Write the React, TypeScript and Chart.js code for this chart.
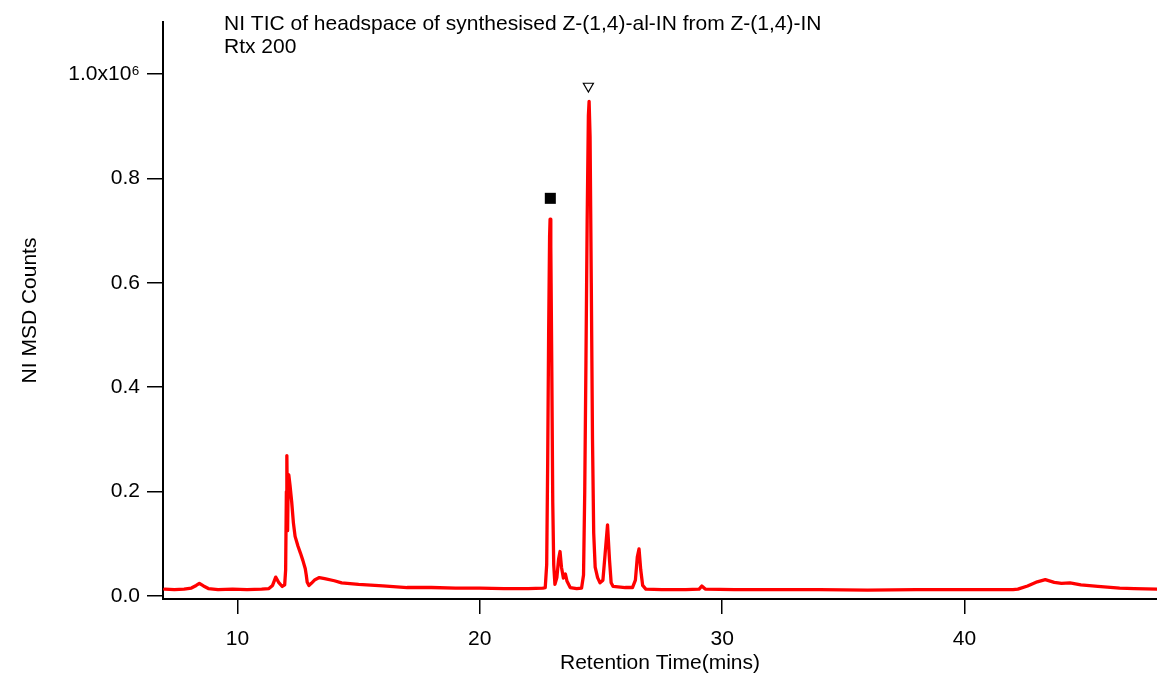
import React, { useEffect, useRef } from "react";
import { Chart, registerables } from "chart.js";

Chart.register(...registerables);

// Retention time (mins)
const times = [
  7.0, 7.4, 7.8, 8.1, 8.3, 8.43, 8.6, 8.8, 9.2, 9.8, 10.4, 11.0, 11.3, 11.45, 11.58, 11.7, 11.85, 11.95,
  11.99, 12.02, 12.04, 12.055, 12.07, 12.09, 12.12, 12.17, 12.24, 12.31, 12.38, 12.5, 12.6, 12.7, 12.8,
  12.84, 12.88, 12.95, 13.05, 13.2, 13.38, 13.6, 14.0, 14.3, 15.0, 16.0, 17.0, 18.0, 19.0, 20.0, 21.0,
  22.0, 22.6, 22.7, 22.76, 22.8, 22.84, 22.88, 22.9, 22.93, 22.97, 23.01, 23.05, 23.1, 23.18, 23.25,
  23.31, 23.37, 23.45, 23.53, 23.6, 23.73, 24.0, 24.2, 24.28, 24.33, 24.38, 24.43, 24.48, 24.51, 24.55,
  24.6, 24.65, 24.7, 24.76, 24.86, 24.96, 25.08, 25.17, 25.27, 25.35, 25.42, 25.5, 26.0, 26.3, 26.42,
  26.5, 26.57, 26.64, 26.72, 26.85, 27.5, 28.5, 29.05, 29.16, 29.3, 30.5, 32.0, 34.0, 36.0, 38.0, 40.0,
  42.0, 42.2, 42.6, 43.0, 43.33, 43.7, 44.0, 44.35, 44.8, 45.5, 46.4, 47.0, 47.94,
];

// NI MSD counts
const counts = [
  13000, 12000, 13000, 15000, 20000, 24000, 19000, 14000, 12000, 13000, 12000, 13000, 14000, 20000, 36000, 26000, 18000, 21000,
  50000, 200000, 269000, 200000, 125000, 200000, 232000, 212000, 180000, 140000, 114000, 95000, 82000, 68000, 52000,
  40000, 26000, 20000, 24000, 31000, 35000, 33000, 29000, 25000, 22000, 19000, 16000, 16000, 15000, 15000, 14000,
  14000, 15000, 16000, 60000, 250000, 500000, 690000, 722000, 670000, 440000, 180000, 60000, 22000, 35000, 70000,
  85000, 55000, 34000, 42000, 28000, 16000, 14000, 15000, 40000, 200000, 450000, 720000, 920000, 948000, 880000,
  600000, 300000, 120000, 55000, 35000, 25000, 30000, 80000, 136000, 70000, 25000, 18000, 16000, 16000, 30000,
  75000, 90000, 50000, 20000, 13000, 12000, 12000, 13000, 19000, 13000, 12000, 12000, 12000, 11000, 12000, 12000,
  12000, 13000, 19000, 27000, 31000, 26000, 24000, 25000, 21000, 18000, 15000, 14000, 13000,
];

// Peak markers
const markerTimes = [22.91, 24.48];
const markerCounts = [762000, 977000];
const markerStyles = ["rect", "triangle"];

const xTicks = [10, 20, 30, 40];
const yTicks = [0, 200000, 400000, 600000, 800000, 1000000];

const titleLines = [
  "NI TIC of headspace of synthesised Z-(1,4)-al-IN from Z-(1,4)-IN",
  "Rtx 200",
];

const FONT = "'Liberation Sans', Arial, Helvetica, sans-serif";
const W = 1157;
const H = 679;

export default function App() {
  const ref = useRef<HTMLCanvasElement | null>(null);

  useEffect(() => {
    if (!ref.current) return;
    const titlePlugin = {
      id: "titleText",
      afterDraw(chart: any) {
        const ctx = chart.ctx;
        ctx.save();
        ctx.fillStyle = "#000";
        ctx.font = `21px ${FONT}`;
        ctx.textAlign = "left";
        ctx.textBaseline = "alphabetic";
        ctx.fillText(titleLines[0], 224, 30);
        ctx.fillText(titleLines[1], 224, 53);
        ctx.restore();
      },
    };

    const chart = new Chart(ref.current, {
      type: "line",
      data: {
        datasets: [
          {
            type: "line",
            data: times.map((t, i) => ({ x: t, y: counts[i] })),
            borderColor: "#ff0000",
            backgroundColor: "#ff0000",
            borderWidth: 3.3,
            borderJoinStyle: "round",
            borderCapStyle: "round",
            pointRadius: 0,
            tension: 0,
            fill: false,
          },
          {
            type: "scatter",
            data: markerTimes.map((t, i) => ({ x: t, y: markerCounts[i] })),
            pointStyle: markerStyles as any,
            pointRadius: [7.8, 5.8],
            pointRotation: [0, 180],
            backgroundColor: ["#000000", "#ffffff"],
            borderColor: "#000000",
            borderWidth: [0, 1.2],
          } as any,
        ],
      },
      options: {
        animation: false,
        responsive: false,
        maintainAspectRatio: false,
        devicePixelRatio: 1,
        layout: { autoPadding: false, padding: { top: 22, left: 0, right: 0, bottom: 0 } },
        plugins: {
          legend: { display: false },
          tooltip: { enabled: false },
          title: { display: false },
        },
        font: { family: FONT, size: 21 },
        scales: {
          x: {
            type: "linear",
            min: 6.93,
            max: 47.94,
            afterBuildTicks: (scale: any) => {
              scale.ticks = xTicks.map((v) => ({ value: v }));
            },
            afterFit: (scale: any) => {
              scale.height = 80;
              scale.paddingLeft = 0;
              scale.paddingRight = 0;
            },
            grid: {
              drawOnChartArea: false,
              drawTicks: true,
              tickLength: 15,
              color: "#000",
              lineWidth: 1.5,
            },
            border: { display: true, color: "#000", width: 2 },
            ticks: {
              color: "#000",
              padding: 13,
              font: { family: FONT, size: 21 },
              maxRotation: 0,
              callback: (v: any) => String(v),
            },
            title: {
              display: true,
              text: "Retention Time(mins)",
              color: "#000",
              font: { family: FONT, size: 21 },
              padding: { top: 0, bottom: 3 },
            },
          },
          y: {
            type: "linear",
            min: -6000,
            max: 1100000,
            afterBuildTicks: (scale: any) => {
              scale.ticks = yTicks.map((v) => ({ value: v }));
            },
            afterFit: (scale: any) => {
              scale.width = 163;
              scale.paddingTop = 0;
              scale.paddingBottom = 0;
            },
            grid: {
              drawOnChartArea: false,
              drawTicks: true,
              tickLength: 16,
              color: "#000",
              lineWidth: 1.5,
            },
            border: { display: true, color: "#000", width: 2 },
            ticks: {
              color: "#000",
              padding: 7,
              font: { family: FONT, size: 21 },
              callback: (v: any) =>
                v === 1000000 ? "1.0x10\u2076" : (Number(v) / 1000000).toFixed(1),
            },
            title: {
              display: true,
              text: "NI MSD Counts",
              color: "#000",
              font: { family: FONT, size: 21 },
              padding: { top: 18, bottom: 0 },
            },
          },
        },
      } as any,
      plugins: [titlePlugin],
    });
    return () => chart.destroy();
  }, []);

  return (
    <div style={{ position: "fixed", left: 0, top: 0, width: W, height: H, background: "#fff" }}>
      <canvas ref={ref} width={W} height={H} style={{ display: "block", width: W, height: H }} />
    </div>
  );
}
